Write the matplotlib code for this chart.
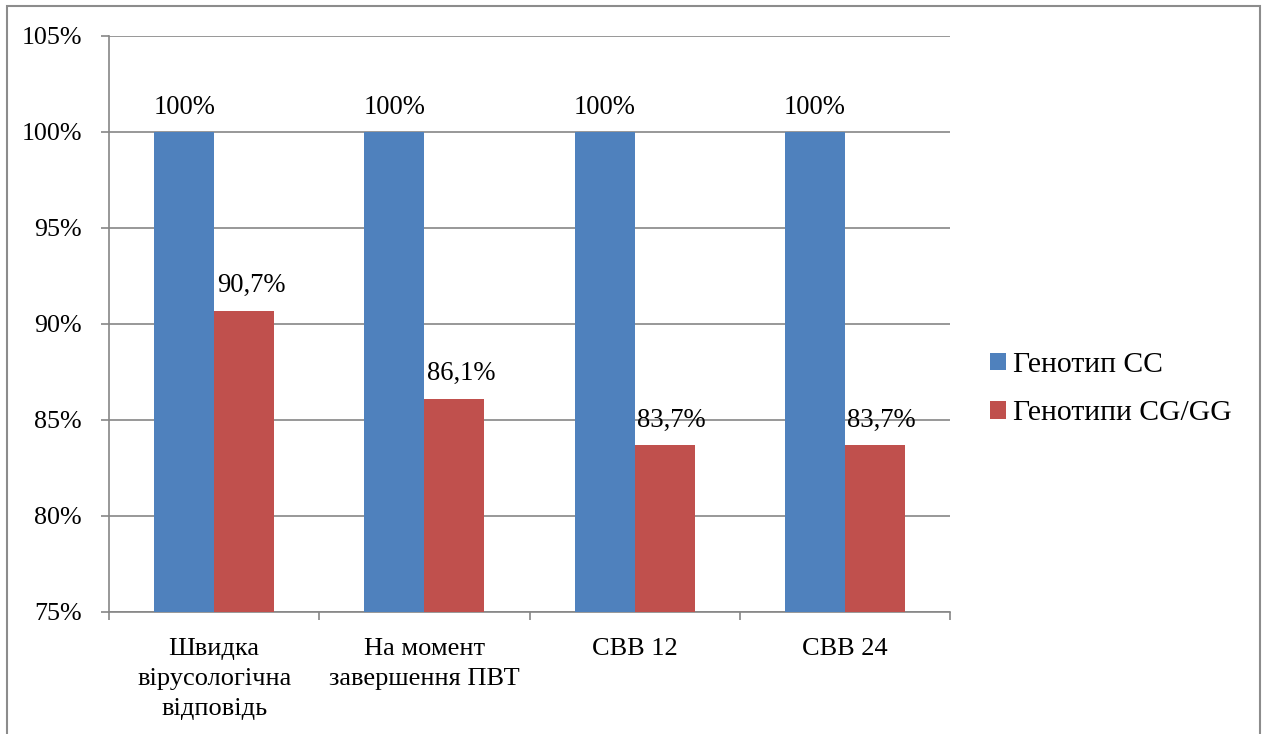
import matplotlib.pyplot as plt
import numpy as np
from matplotlib.patches import Patch, Rectangle

categories = ["Швидка\nвірусологічна\nвідповідь", "На момент\nзавершення ПВТ", "СВВ 12", "СВВ 24"]
series_names = ["Генотип CC", "Генотипи CG/GG"]
genotype_cc = [100, 100, 100, 100]
genotype_cg_gg = [90.7, 86.1, 83.7, 83.7]
y_ticks = [75, 80, 85, 90, 95, 100, 105]

BLUE = "#4F81BD"
RED = "#C0504D"
GRID = "#868686"

plt.rcParams["font.family"] = ["Liberation Serif", "DejaVu Serif"]
FS_TICK = 18.7
FS_CAT = 19
FS_LABEL = 19.2
FS_LEGEND = 21.3

fig = plt.figure(figsize=(12.67, 7.34), dpi=100)
ax = fig.add_axes([109 / 1267, 1 - 612 / 734, (950 - 109) / 1267, (612 - 36) / 734])

# outer chart frame
fig.patches.append(Rectangle((7 / 1267, -0.05), (1260 - 7) / 1267, 1 - 6 / 734 + 0.05,
                             transform=fig.transFigure, fill=False,
                             edgecolor="#8c8c8c", linewidth=1.5))

x = np.arange(len(categories))
w = 0.285
bars_cc = ax.bar(x - w / 2, genotype_cc, w, color=BLUE, zorder=3)
bars_cg = ax.bar(x + w / 2, genotype_cg_gg, w, color=RED, zorder=3)


def fmt(v):
    return f"{v:g}".replace(".", ",") + "%"


for bars, vals, dx in ((bars_cc, genotype_cc, 0), (bars_cg, genotype_cg_gg, 5)):
    for b, v in zip(bars, vals):
        ax.annotate(fmt(v), (b.get_x() + b.get_width() / 2, v),
                    xytext=(dx, 9), textcoords="offset points",
                    ha="center", va="bottom", fontsize=FS_LABEL, zorder=4)

ax.set_ylim(75, 105)
ax.set_xlim(-0.5, len(categories) - 0.5)
ax.set_yticks(y_ticks)
ax.set_yticklabels([f"{t}%" for t in y_ticks], fontsize=FS_TICK)
ax.yaxis.grid(True, color=GRID, linewidth=1.2, zorder=0)
ax.set_axisbelow(True)

# category boundaries get ticks, labels sit at the centres
ax.set_xticks(np.arange(-0.5, len(categories), 1.0))
ax.set_xticklabels([])
ax.set_xticks(x, minor=True)
ax.set_xticklabels(categories, minor=True, fontsize=FS_CAT, linespacing=1.47)
ax.tick_params(axis="x", which="minor", length=0, pad=19)
ax.tick_params(axis="x", which="major", length=5.5, color=GRID, width=1.2)
ax.tick_params(axis="y", length=5.5, color=GRID, width=1.2, pad=14)

for side in ("top", "right"):
    ax.spines[side].set_visible(False)
for side in ("left", "bottom"):
    ax.spines[side].set_color(GRID)
    ax.spines[side].set_linewidth(1.2)

handles = [Patch(facecolor=BLUE), Patch(facecolor=RED)]
fig.legend(handles, series_names, loc="center left",
           bbox_to_anchor=(990 / 1267, 1 - 389 / 734), frameon=False,
           fontsize=FS_LEGEND, handlelength=0.55, handleheight=0.55,
           handletextpad=0.22, labelspacing=0.75, borderpad=0, borderaxespad=0)

fig.savefig("out.png", dpi=100)
